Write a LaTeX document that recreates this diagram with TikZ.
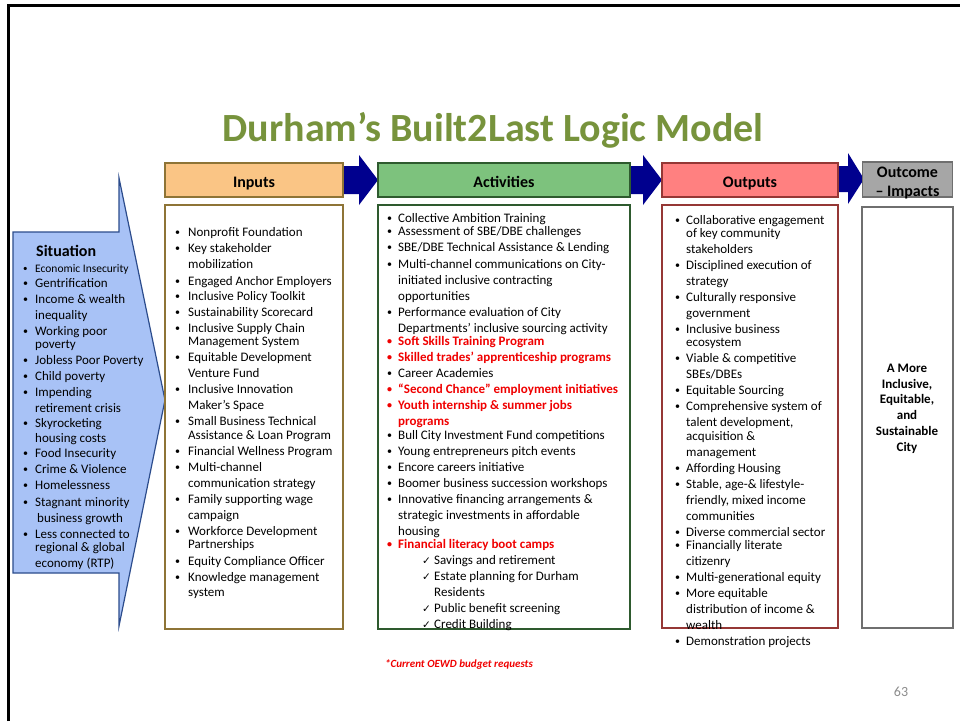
\documentclass[tikz,border=0pt]{standalone}
\usepackage{fontspec}
\setmainfont{Carlito}
\newfontfamily\djv{DejaVu Sans}
\definecolor{titlegreen}{HTML}{77933C}
\definecolor{inhdr}{HTML}{FAC585}
\definecolor{inbrd}{HTML}{8E7436}
\definecolor{achdr}{HTML}{7DC27D}
\definecolor{acbrd}{HTML}{2E5A2E}
\definecolor{outhdr}{HTML}{FF8080}
\definecolor{outbrd}{HTML}{953735}
\definecolor{ochdr}{HTML}{A6A6A6}
\definecolor{ocbrd}{HTML}{6F6F6F}
\definecolor{navyarr}{HTML}{00008E}
\definecolor{sitfill}{HTML}{A8C2F6}
\definecolor{sitbrd}{HTML}{2C4C8C}
\definecolor{redtxt}{HTML}{F00000}
\definecolor{pgnum}{HTML}{8C8C8C}
\begin{document}
\begin{tikzpicture}[x=1pt,y=-1pt,
  txt/.style={anchor=base west, inner sep=0pt, font=\fontsize{13}{15}\selectfont},
  bul/.style={anchor=base west, inner sep=0pt, font=\fontsize{10}{12}\selectfont},
  hdr/.style={draw, line width=1.6pt, inner sep=0pt},
  htxt/.style={anchor=base, inner sep=0pt, font=\fontsize{16}{18}\bfseries\selectfont},
  cbox/.style={draw, line width=1.6pt}]
\useasboundingbox (0,0) rectangle (960,721);
\fill[white] (0,0) rectangle (960,721);
\draw[line width=3pt] (8.5,721) -- (8.5,5.3) -- (960,5.3);

% title
\node[font=\fontsize{40}{46}\bfseries\selectfont, text=titlegreen, inner sep=0pt] (title) at (493,130) {Durham’s Built2Last Logic Model};

% situation arrow
\draw[sitbrd, fill=sitfill, line width=1.2pt] (13,232) -- (119,232) -- (119,178) -- (165,400) -- (119,626) -- (119,573) -- (13,573) -- cycle;
\node[anchor=base west, inner sep=0pt, font=\fontsize{16}{18}\bfseries\selectfont] (sit) at (36,256) {Situation};
\node[anchor=base west, inner sep=0pt, font=\fontsize{11.5}{13}\selectfont] (sit0) at (35,272) {Economic Insecurity};
\node[bul, font=\fontsize{9}{11}\selectfont] (sitb0) at (23,271) {•};
\foreach \y/\b/\t in {283/1/Gentrification, 299/1/Income \& wealth, 315/0/inequality, 331/1/Working poor, 344/0/poverty, 360/1/Jobless Poor Poverty, 376/1/Child poverty, 392/1/Impending, 408/0/retirement crisis, 423/1/Skyrocketing, 438/0/housing costs, 453/1/Food Insecurity, 469/1/Crime \& Violence, 485/1/Homelessness, 502/1/Stagnant minority, 534/1/Less connected to, 547/0/regional \& global, 563/0/economy (RTP)}
{ \node[txt] (sit\y) at (35,\y+4) {\t};
  \ifnum\b=1 \node[bul] (sitb\y) at (23,\y+3) {•}; \fi }
\node[txt] (sit518) at (37,522) {business growth};

% block arrows
\fill[navyarr] (340,166) -- (359,166) -- (359,155) -- (378,180) -- (359,205) -- (359,194) -- (340,194) -- cycle;
\fill[navyarr] (627,166) -- (643,166) -- (643,155) -- (662,180) -- (643,205) -- (643,194) -- (627,194) -- cycle;
\fill[navyarr] (835,166) -- (848,166) -- (848,153) -- (864,179) -- (848,204) -- (848,192) -- (835,192) -- cycle;

% headers
\node[hdr, fill=inhdr, draw=inbrd, minimum width=178, minimum height=34] (hin) at (254,180) {};
\node[hdr, fill=achdr, draw=acbrd, minimum width=252, minimum height=34] (hac) at (504,180) {};
\node[hdr, fill=outhdr, draw=outbrd, minimum width=176, minimum height=34] (hout) at (750,180) {};
\node[hdr, fill=ochdr, draw=ocbrd, minimum width=90, minimum height=35] (hoc) at (907.5,179.5) {};
\node[htxt] (hin-t) at (254,187) {Inputs};
\node[htxt] (hac-t) at (504,187) {Activities};
\node[htxt] (hout-t) at (750,187) {Outputs};
\node[htxt] (hoc1) at (907.5,177.5) {Outcome};
\node[htxt] (hoc2) at (907.5,196) {– Impacts};

% content boxes
\draw[cbox, draw=inbrd] (165,205) rectangle (343,629);
\draw[cbox, draw=acbrd] (378,205) rectangle (630,629);
\draw[cbox, draw=outbrd] (662,205) rectangle (838,628);
\draw[cbox, draw=ocbrd] (862,207) rectangle (953,628);

% inputs
\foreach \y/\b/\t in {232/1/Nonprofit Foundation, 248/1/Key stakeholder, 264/0/mobilization, 281/1/Engaged Anchor Employers, 296/1/Inclusive Policy Toolkit, 312/1/Sustainability Scorecard, 328/1/Inclusive Supply Chain, 341/0/Management System, 357/1/Equitable Development, 373/0/Venture Fund, 389/1/Inclusive Innovation, 405/0/Maker’s Space, 421/1/Small Business Technical, 435/0/Assistance \& Loan Program, 451/1/Financial Wellness Program, 467/1/Multi-channel, 483/0/communication strategy, 499/1/Family supporting wage, 515/0/campaign, 531/1/Workforce Development, 544/0/Partnerships, 561/1/Equity Compliance Officer, 577/1/Knowledge management, 592/0/system}
{ \node[txt] (in\y) at (188,\y+4) {\t};
  \ifnum\b=1 \node[bul] (inb\y) at (175,\y+3) {•}; \fi }

% activities
\foreach \y/\b/\t in {218/1/Collective Ambition Training, 231/1/{Assessment of SBE/DBE challenges}, 247/1/{SBE/DBE Technical Assistance \& Lending}, 264/1/Multi-channel communications on City-, 280/0/initiated inclusive contracting, 296/0/opportunities, 312/1/Performance evaluation of City, 328/0/Departments’ inclusive sourcing activity, 341/2/Soft Skills Training Program, 357/2/Skilled trades’ apprenticeship programs, 373/1/Career Academies, 389/2/“Second Chance” employment initiatives, 405/2/Youth internship \& summer jobs, 421/3/programs, 435/1/Bull City Investment Fund competitions, 451/1/Young entrepreneurs pitch events, 467/1/Encore careers initiative, 483/1/Boomer business succession workshops, 499/1/Innovative financing arrangements \&, 515/0/strategic investments in affordable, 531/0/housing, 544/2/Financial literacy boot camps}
{ \ifnum\b>1
    \node[txt, text=redtxt, font=\fontsize{13}{15}\bfseries\selectfont] (ac\y) at (398,\y+4) {\t};
    \ifnum\b=2 \node[bul, text=redtxt, font=\fontsize{10}{12}\bfseries\selectfont] (acb\y) at (387,\y+3) {•}; \fi
  \else
    \node[txt] (ac\y) at (398,\y+4) {\t};
    \ifnum\b=1 \node[bul] (acb\y) at (387,\y+3) {•}; \fi
  \fi }
\foreach \y/\b/\t in {560/1/Savings and retirement, 576/1/Estate planning for Durham, 592/0/Residents, 608/1/Public benefit screening, 624/1/Credit Building}
{ \node[txt] (ck\y) at (434,\y+4) {\t};
  \ifnum\b=1 \node[txt, font=\fontsize{10.5}{12}\djv] (ckm\y) at (422,\y+4) {✓}; \fi }

% outputs
\foreach \y/\b/\t in {220/1/Collaborative engagement, 233/0/of key community, 249/0/stakeholders, 265/1/Disciplined execution of, 281/0/strategy, 297/1/Culturally responsive, 313/0/government, 329/1/Inclusive business, 342/0/ecosystem, 358/1/Viable \& competitive, 374/0/{SBEs/DBEs}, 390/1/Equitable Sourcing, 406/1/Comprehensive system of, 422/0/{talent development,}, 436/0/acquisition \&, 452/0/management, 468/1/Affording Housing, 484/1/{Stable, age-\& lifestyle-}, 500/0/{friendly, mixed income}, 516/0/communities, 532/1/Diverse commercial sector, 545/1/Financially literate, 561/0/citizenry, 577/1/Multi-generational equity, 593/1/More equitable, 609/0/distribution of income \&, 625/0/wealth, 641/1/Demonstration projects}
{ \node[txt] (out\y) at (686,\y+4) {\t};
  \ifnum\b=1 \node[bul] (outb\y) at (675,\y+3) {•}; \fi }

% outcome
\node[align=center, inner sep=0pt, font=\fontsize{13}{15.8}\bfseries\selectfont] (oc) at (907,408.5) {A More\\Inclusive,\\Equitable,\\and\\Sustainable\\City};

% footnote and page number
\node[inner sep=0pt, text=redtxt, font=\fontsize{11}{12}\bfseries\itshape\selectfont] (note) at (459,664) {*Current OEWD budget requests};
\node[inner sep=0pt, text=pgnum, font=\fontsize{14}{16}\selectfont] (pg) at (901,692) {63};
\end{tikzpicture}
\end{document}
